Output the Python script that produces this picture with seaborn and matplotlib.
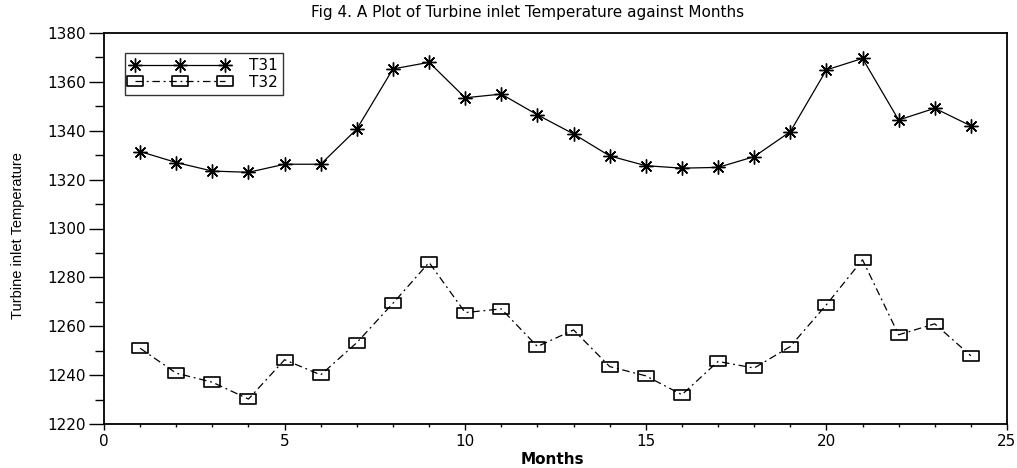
import matplotlib
matplotlib.use("Agg")
import matplotlib.pyplot as plt
import seaborn as sns
from matplotlib.path import Path
from matplotlib.ticker import MultipleLocator

months = list(range(1, 25))
t31 = [1331.5, 1327, 1323.5, 1323, 1326.3, 1326.3, 1340.7, 1365.3, 1368, 1353.5,
       1355, 1346.5, 1338.7, 1329.7, 1325.7, 1324.7, 1325, 1329.4, 1339.6, 1364.9,
       1369.6, 1344.4, 1349.2, 1342]
t32 = [1251, 1240.8, 1237.1, 1230.2, 1246.3, 1240.1, 1253.3, 1269.4, 1286.1, 1265.6,
       1267.1, 1251.7, 1258.5, 1243.5, 1239.7, 1232, 1245.6, 1242.9, 1251.7, 1268.8,
       1287.2, 1256.5, 1261, 1247.9]
series_labels = ["T31", "T32"]
title = "Fig 4. A Plot of Turbine inlet Temperature against Months"
xlabel = "Months"
ylabel = "Turbine inlet Temperature"

sns.set_style("white")
plt.rcParams['font.family'] = ['DejaVu Sans']
plt.rcParams['text.color'] = 'black'
plt.rcParams['axes.labelcolor'] = 'black'
plt.rcParams['xtick.color'] = 'black'
plt.rcParams['ytick.color'] = 'black'

fig = plt.figure(figsize=(10.17, 4.68), dpi=100)
ax = fig.add_axes([104/1017, 1 - 424/468, (1007-104)/1017, (424-33)/468])

rect = Path([(-1.4, -1), (1.4, -1), (1.4, 1), (-1.4, 1), (-1.4, -1)],
            [Path.MOVETO, Path.LINETO, Path.LINETO, Path.LINETO, Path.CLOSEPOLY])

sns.lineplot(x=months, y=t31, ax=ax, color="black", lw=0.9, marker=(8, 2, 0),
             markersize=10, markeredgewidth=1.0, markeredgecolor="black",
             label=series_labels[0])
sns.lineplot(x=months, y=t32, ax=ax, color="black", lw=0.9, marker=rect,
             markersize=11, markeredgewidth=1.2, markerfacecolor="none",
             markeredgecolor="black", linestyle=(0, (6, 3, 1.5, 3)),
             label=series_labels[1])

ax.set_xlim(0, 25)
ax.set_ylim(1220, 1380)
ax.xaxis.set_major_locator(MultipleLocator(5))
ax.xaxis.set_minor_locator(MultipleLocator(1))
ax.yaxis.set_major_locator(MultipleLocator(20))
ax.yaxis.set_minor_locator(MultipleLocator(10))
ax.tick_params(axis="x", which="major", direction="out", length=4.5, width=1,
               color="black", labelcolor="black", labelsize=11, bottom=True, pad=3)
ax.tick_params(axis="x", which="minor", direction="out", length=2.2, width=1,
               color="black", bottom=True)
ax.tick_params(axis="y", which="major", direction="out", length=11, width=1,
               color="black", labelcolor="black", labelsize=11, left=True, pad=2)
ax.tick_params(axis="y", which="minor", direction="out", length=6.5, width=1,
               color="black", left=True)
for s in ax.spines.values():
    s.set_visible(True)
    s.set_color("black")
    s.set_linewidth(1.3)

fig.text(528/1017, 1 - 13/468, title, ha="center", va="center", fontsize=11,
         color="black")
ax.set_xlabel(xlabel, fontsize=11, fontweight="bold", color="black")
ax.xaxis.set_label_coords(0.497, -0.072)
ax.set_ylabel(ylabel, fontsize=10.5, color="black",
              family=["Liberation Sans", "DejaVu Sans"])
ax.yaxis.set_label_coords(-0.0875, 0.483)

leg = ax.legend(loc="upper left", numpoints=3, frameon=True, fancybox=False,
                edgecolor="black", fontsize=11, handlelength=6.5,
                borderpad=0.35, labelspacing=0.1, handletextpad=1.3,
                bbox_to_anchor=(0.023, 0.949), borderaxespad=0)
leg.get_frame().set_linewidth(1.0)
for t in leg.get_texts():
    t.set_color("black")

fig.savefig("out.png", dpi=100)
